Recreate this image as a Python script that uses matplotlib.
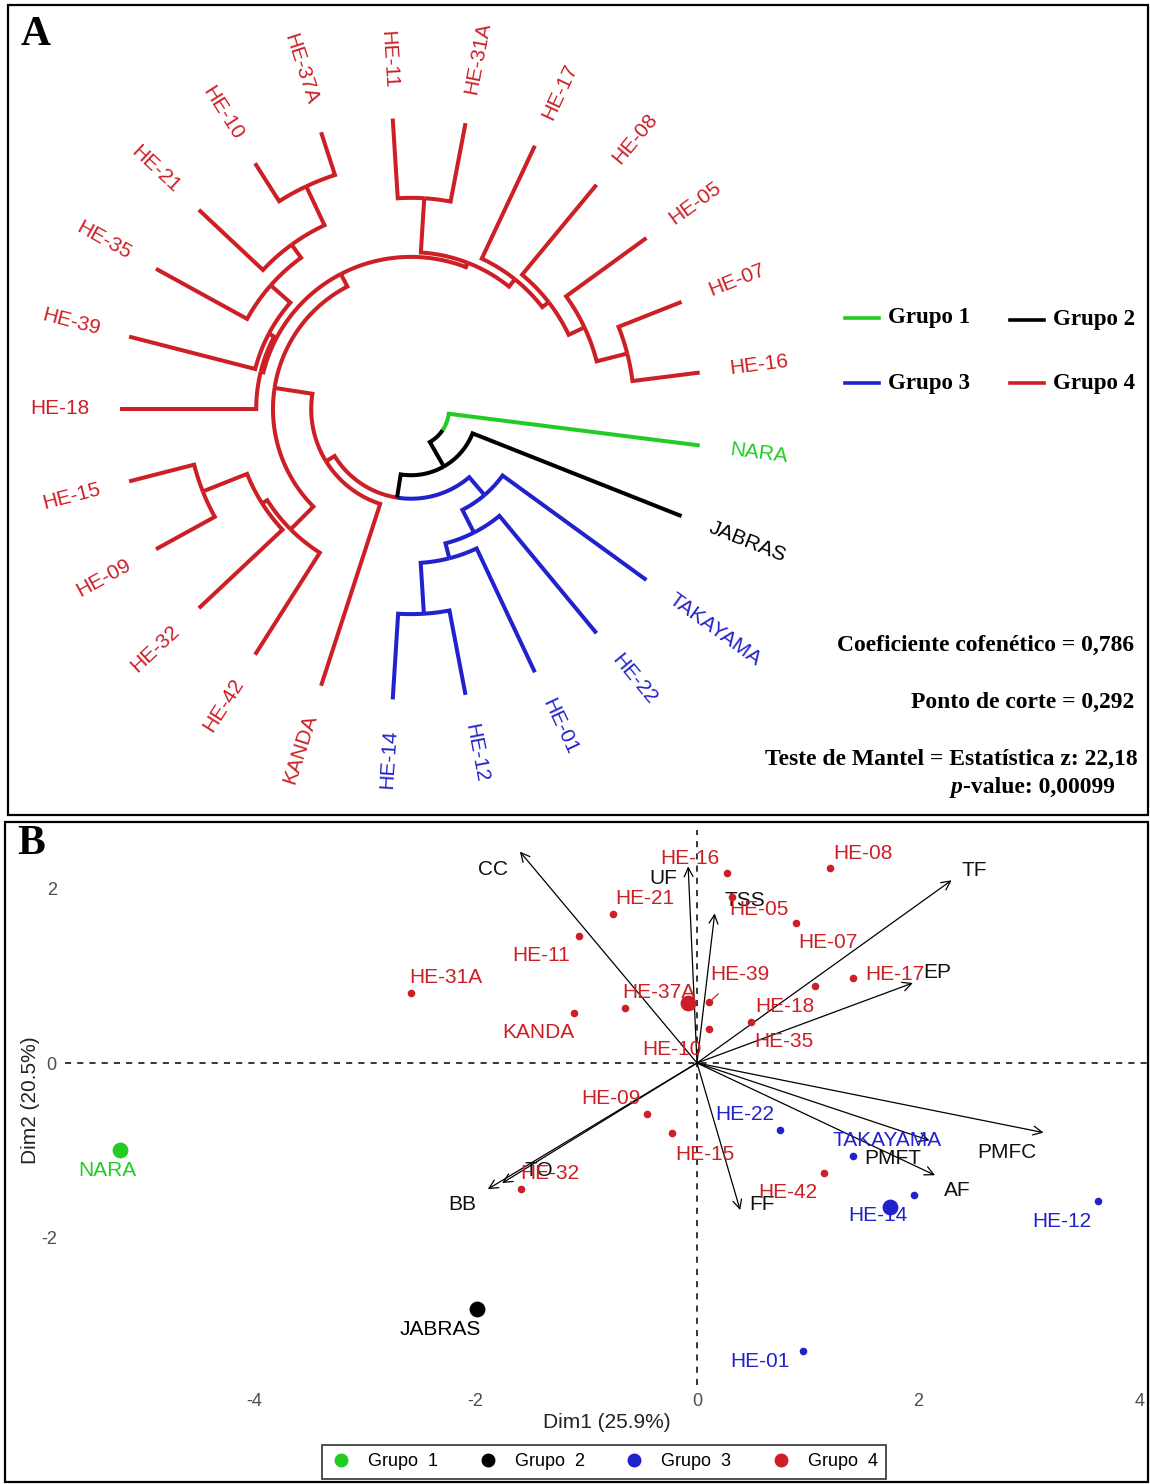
import numpy as np
import matplotlib
matplotlib.use("Agg")
import matplotlib.pyplot as plt
from matplotlib.lines import Line2D
from matplotlib.patches import Rectangle

plt.rcParams["axes.unicode_minus"] = False

W, H = 1150, 1484
SANS = "Liberation Sans"
SERIF = "Liberation Serif"

GROUP_COLORS = {0: "black", 1: "#22CC22", 2: "black", 3: "#2222CC", 4: "#CC1F26"}

# ---------------- panel A: circular dendrogram ----------------
LEAF_NAMES = ["NARA", "JABRAS", "TAKAYAMA", "HE-22", "HE-01", "HE-12", "HE-14",
              "KANDA", "HE-42", "HE-32", "HE-09", "HE-15", "HE-18", "HE-39",
              "HE-35", "HE-21", "HE-10", "HE-37A", "HE-11", "HE-31A", "HE-17",
              "HE-08", "HE-05", "HE-07", "HE-16"]
LEAF_GROUP = [1, 2, 3, 3, 3, 3, 3, 4, 4, 4, 4, 4, 4, 4, 4, 4, 4, 4, 4, 4, 4, 4, 4, 4, 4]

NODE_NAMES = ["S0", "P1", "X0", "V0", "B4", "S1", "X1", "S2", "P2", "X2", "P3", "X3",
              "T1", "X4", "T2", "B3", "K", "B2", "R1", "B1", "R0", "N3", "N2", "root"]
NODE_LEFT = ["HE-10", "HE-15", "HE-07", "HE-11", "HE-14", "HE-21", "HE-05", "HE-35",
             "P1", "HE-08", "P2", "HE-17", "HE-39", "V0", "HE-18", "B4", "T2", "B3",
             "P3", "TAKAYAMA", "KANDA", "B1", "JABRAS", "NARA"]
NODE_RIGHT = ["HE-37A", "HE-09", "HE-16", "HE-31A", "HE-12", "S0", "X0", "S1",
              "HE-32", "X1", "HE-42", "X2", "S2", "X3", "T1", "HE-01", "X4", "HE-22",
              "K", "B2", "R1", "R0", "N3", "N2"]
NODE_HEIGHT = [0.067, 0.100, 0.101, 0.119, 0.128, 0.131, 0.148, 0.155, 0.171, 0.174,
               0.180, 0.186, 0.194, 0.200, 0.203, 0.204, 0.207, 0.227, 0.228, 0.265,
               0.285, 0.300, 0.335, 0.377]

COFENETICO = "0,786"
CORTE = "0,292"
MANTEL_Z = "22,18"
MANTEL_P = "0,00099"

# ---------------- panel B: PCA biplot ----------------
PCA_NAMES = ["NARA", "JABRAS", "TAKAYAMA", "HE-22", "HE-01", "HE-12", "HE-14",
             "KANDA", "HE-42", "HE-32", "HE-09", "HE-15", "HE-18", "HE-39",
             "HE-35", "HE-21", "HE-10", "HE-37A", "HE-11", "HE-31A", "HE-17",
             "HE-08", "HE-05", "HE-07", "HE-16"]
PCA_GROUP = LEAF_GROUP
PCA_DIM1 = [-5.21, -1.99, 1.41, 0.75, 0.96, 3.62, 1.96,
            -1.11, 1.15, -1.59, -0.45, -0.23, 1.07, 0.11,
            0.49, -0.76, 0.11, -0.65, -1.07, -2.58, 1.41,
            1.20, 0.32, 0.89, 0.27]
PCA_DIM2 = [-1.00, -2.83, -1.07, -0.77, -3.31, -1.59, -1.52,
            0.58, -1.26, -1.45, -0.59, -0.81, 0.88, 0.70,
            0.47, 1.71, 0.39, 0.63, 1.46, 0.80, 0.98,
            2.24, 1.91, 1.61, 2.18]

VAR_NAMES = ["CC", "UF", "TSS", "TF", "EP", "PMFC", "PMFT", "AF", "FF", "BB", "TO"]
VAR_DIM1 = [-1.60, -0.08, 0.16, 2.30, 1.95, 3.13, 2.10, 2.15, 0.39, -1.89, -1.76]
VAR_DIM2 = [2.43, 2.26, 1.72, 2.10, 0.92, -0.80, -0.89, -1.29, -1.69, -1.45, -1.38]

# label offsets in pixels (layout only)
PCA_LABEL_OFFSET = {
    "NARA": (-13, -20), "JABRAS": (-36, -20), "TAKAYAMA": (34, 16), "HE-22": (-35, 15),
    "HE-01": (-43, -11), "HE-12": (-36, -20), "HE-14": (-36, -20), "KANDA": (-36, -20),
    "HE-42": (-36, -20), "HE-32": (29, 16), "HE-09": (-36, 16), "HE-15": (33, -21),
    "HE-18": (-31, -20), "HE-39": (31, 28), "HE-35": (33, -19), "HE-21": (32, 16),
    "HE-10": (-37, -20), "HE-37A": (34, 16), "HE-11": (-37, -20), "HE-31A": (34, 16),
    "HE-17": (42, 3), "HE-08": (33, 15), "HE-05": (27, -13), "HE-07": (32, -20),
    "HE-16": (-37, 15),
}
VAR_LABEL_OFFSET = {
    "CC": (-27, -18), "UF": (-25, -12), "TSS": (30, 13), "TF": (23, 10), "EP": (24, 10),
    "PMFC": (-37, -20), "PMFT": (-37, -18), "AF": (22, -15), "FF": (22, 6),
    "BB": (-26, -15), "TO": (37, 13),
}

fig = plt.figure(figsize=(W / 100, H / 100), dpi=100)


def fx(px):
    return px / W


def fy(py):
    return 1 - py / H


# ---- panel A ----
SCALE = 671.0          # pixels per height unit
R_TIP = 291 / SCALE
LABEL_R = 321 / SCALE
HALF = 400
axA = fig.add_axes([fx(411 - HALF), fy(409 + HALF), 2 * HALF / W, 2 * HALF / H])
axA.set_xlim(-HALF / SCALE, HALF / SCALE)
axA.set_ylim(-HALF / SCALE, HALF / SCALE)
axA.set_aspect("equal")
axA.axis("off")

n_leaves = len(LEAF_NAMES)
pos = {nm: float(i) for i, nm in enumerate(LEAF_NAMES)}
hgt = {nm: 0.0 for nm in LEAF_NAMES}
grp = dict(zip(LEAF_NAMES, LEAF_GROUP))


def ang(x):
    return np.deg2rad(-7.2 - x * 360.0 / n_leaves)


def rad(h):
    return R_TIP - h


for nm, l, r, h in zip(NODE_NAMES, NODE_LEFT, NODE_RIGHT, NODE_HEIGHT):
    pos[nm] = (pos[l] + pos[r]) / 2
    hgt[nm] = h
    grp[nm] = grp[l] if grp[l] == grp[r] else 0

for nm, l, r, h in zip(NODE_NAMES, NODE_LEFT, NODE_RIGHT, NODE_HEIGHT):
    for child in (l, r):
        t = np.linspace(ang(pos[nm]), ang(pos[child]), 80)
        rr = np.full_like(t, rad(h))
        xs = np.r_[rr * np.cos(t), rad(hgt[child]) * np.cos(t[-1])]
        ys = np.r_[rr * np.sin(t), rad(hgt[child]) * np.sin(t[-1])]
        axA.plot(xs, ys, color=GROUP_COLORS[grp[child]], lw=2.9,
                 solid_capstyle="butt", solid_joinstyle="miter")

for nm, g in zip(LEAF_NAMES, LEAF_GROUP):
    t = ang(pos[nm])
    deg = (np.rad2deg(t) + 180) % 360 - 180
    if -90 <= deg <= 90:
        rot, ha = deg, "left"
    else:
        rot, ha = deg + 180, "right"
    axA.text(LABEL_R * np.cos(t), LABEL_R * np.sin(t), nm, rotation=rot,
             rotation_mode="anchor", ha=ha, va="center", fontsize=15,
             family=SANS, color=GROUP_COLORS[g])

# legend of panel A
leg_items = [(1, 845, 318), (2, 1010, 320), (3, 845, 383), (4, 1010, 383)]
for g, x0, y0 in leg_items:
    fig.add_artist(Line2D([fx(x0), fx(x0 + 34)], [fy(y0), fy(y0)],
                          color=GROUP_COLORS[g], lw=2.6))
    fig.text(fx(x0 + 43), fy(y0), f"Grupo {g}", ha="left", va="center",
             fontsize=16.5, family=SERIF, weight="bold")

fig.text(fx(1134), fy(645), f"Coeficiente cofenético = {COFENETICO}", ha="right",
         va="center", fontsize=17, family=SERIF, weight="bold")
fig.text(fx(1134), fy(702), f"Ponto de corte = {CORTE}", ha="right",
         va="center", fontsize=17, family=SERIF, weight="bold")
fig.text(fx(1138), fy(759), f"Teste de Mantel = Estatística z: {MANTEL_Z}", ha="right",
         va="center", fontsize=17, family=SERIF, weight="bold")
fig.text(fx(963), fy(787), "p", ha="right", va="center", fontsize=17,
         family=SERIF, weight="bold", style="italic")
fig.text(fx(963), fy(787), f"-value: {MANTEL_P}", ha="left", va="center",
         fontsize=17, family=SERIF, weight="bold")

fig.text(fx(21), fy(35), "A", ha="left", va="center", fontsize=30,
         family=SERIF, weight="bold")

# ---- panel B ----
px_x0, px_x1, px_y0, px_y1 = 65, 1148, 830, 1385
axB = fig.add_axes([fx(px_x0), fy(px_y1), (px_x1 - px_x0) / W, (px_y1 - px_y0) / H])
axB.set_xlim((px_x0 - 697) / 110.7, (px_x1 - 697) / 110.7)
axB.set_ylim((1063 - px_y1) / 87.0, (1063 - px_y0) / 87.0)
for sp in axB.spines.values():
    sp.set_visible(False)
axB.set_xticks([-4, -2, 0, 2, 4])
axB.set_yticks([-2, 0, 2])
axB.tick_params(length=0, labelsize=13, labelcolor="#4D4D4D", pad=6)
for lab in axB.get_xticklabels() + axB.get_yticklabels():
    lab.set_family(SANS)
axB.axhline(0, color="black", lw=1.1, ls=(0, (4, 4)))
axB.axvline(0, color="black", lw=1.1, ls=(0, (4, 4)))

axB.set_xlabel("Dim1 (25.9%)", fontsize=15, family=SANS, color="#222222")
axB.set_ylabel("Dim2 (20.5%)", fontsize=15, family=SANS, color="#222222")
axB.xaxis.set_label_coords(0.5, -(1422 - px_y1) / (px_y1 - px_y0))
axB.xaxis.label.set_va("center")
axB.yaxis.set_label_coords((30 - px_x0) / (px_x1 - px_x0), (px_y1 - 1100) / (px_y1 - px_y0))
axB.yaxis.label.set_va("center")

# variable arrows
for nm, vx, vy in zip(VAR_NAMES, VAR_DIM1, VAR_DIM2):
    axB.annotate("", xy=(vx, vy), xytext=(0, 0),
                 arrowprops=dict(arrowstyle="->", color="black", lw=0.9,
                                 shrinkA=0, shrinkB=0, mutation_scale=16))
    dx, dy = VAR_LABEL_OFFSET[nm]
    axB.annotate(nm, (vx, vy), xytext=(dx, dy), textcoords="offset pixels",
                 ha="center", va="center", fontsize=15, family=SANS, color="#111111")

# individuals and group centroids
d1 = np.array(PCA_DIM1)
d2 = np.array(PCA_DIM2)
gg = np.array(PCA_GROUP)
for g in (1, 2, 3, 4):
    m = gg == g
    axB.scatter(d1[m], d2[m], s=30, color=GROUP_COLORS[g], zorder=4, lw=0)
    axB.scatter(d1[m].mean(), d2[m].mean(), s=130, color=GROUP_COLORS[g], zorder=4, lw=0)

for nm, x, y, g in zip(PCA_NAMES, PCA_DIM1, PCA_DIM2, PCA_GROUP):
    dx, dy = PCA_LABEL_OFFSET[nm]
    props = None
    if nm == "HE-39":
        props = dict(arrowstyle="-", color=GROUP_COLORS[g], lw=0.9,
                     shrinkA=8, shrinkB=3)
    axB.annotate(nm, (x, y), xytext=(dx, dy), textcoords="offset pixels",
                 ha="center", va="center", fontsize=15, family=SANS,
                 color=GROUP_COLORS[g], arrowprops=props, zorder=5)

fig.text(fx(17), fy(844), "B", ha="left", va="center", fontsize=30,
         family=SERIF, weight="bold")

handles = [Line2D([], [], marker="o", ls="", color=GROUP_COLORS[g], markersize=9)
           for g in (1, 2, 3, 4)]
leg = fig.legend(handles, [f"Grupo  {g}" for g in (1, 2, 3, 4)], loc="center",
                 bbox_to_anchor=(fx(604), fy(1462)), ncol=4, frameon=True,
                 fancybox=False, edgecolor="black",
                 handletextpad=0.9, columnspacing=2.15, borderpad=0.45,
                 handlelength=1.2, prop={"family": SANS, "size": 13})
leg.get_frame().set_linewidth(1.2)

# panel frames
fig.add_artist(Rectangle((fx(8), fy(815)), (1148 - 8) / W, (815 - 5) / H,
                         transform=fig.transFigure, fill=False, lw=1.6, ec="black"))
fig.add_artist(Rectangle((fx(5), fy(1482)), (1148 - 5) / W, (1482 - 822) / H,
                         transform=fig.transFigure, fill=False, lw=1.6, ec="black"))

fig.savefig("out.png", dpi=100)
